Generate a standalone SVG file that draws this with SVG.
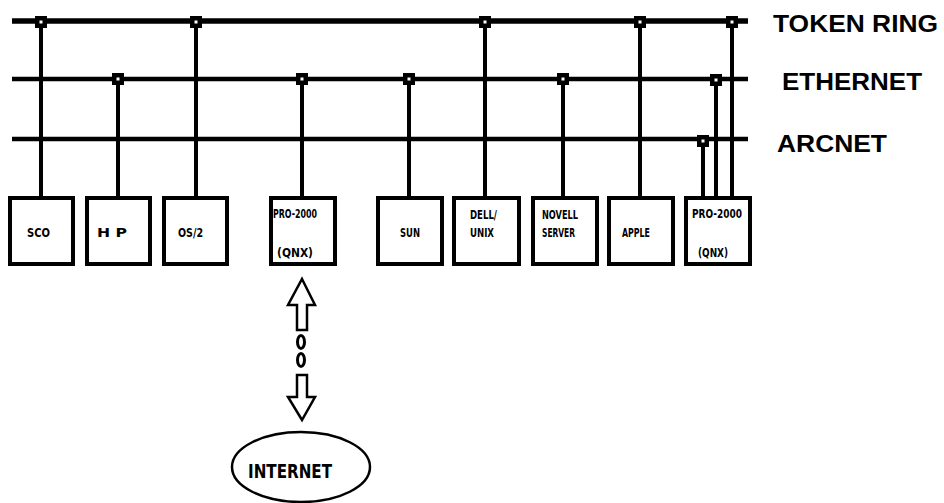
<svg xmlns="http://www.w3.org/2000/svg" width="944" height="503" viewBox="0 0 944 503">
<defs>
<style>
.bus{stroke:#000;stroke-linecap:butt;fill:none}
.drop{stroke:#000;stroke-width:4;fill:none}
.box{fill:#fff;stroke:#000;stroke-width:4}
.lbl{font-family:"DejaVu Sans Condensed","Liberation Sans",sans-serif;font-weight:bold;font-size:12px;fill:#000}
.net{font-family:"Liberation Sans",Arial,sans-serif;font-weight:bold;font-size:24px;fill:#000}
.arr{fill:#fff;stroke:#000;stroke-width:2.5;stroke-linejoin:miter}
</style>
<g id="tap"><rect x="-6" y="-6" width="12" height="12" fill="#000"/><rect x="-1.5" y="-1.5" width="3" height="3" fill="#fff"/></g>
</defs>
<rect width="944" height="503" fill="#fff"/>
<g id="connectors">
<line class="bus" x1="12" y1="21" x2="748" y2="21" stroke-width="5.5"/>
<line class="bus" x1="12" y1="79" x2="748" y2="79" stroke-width="4.5"/>
<line class="bus" x1="12" y1="139" x2="748" y2="139" stroke-width="4.5"/>
<line class="drop" x1="41" y1="21" x2="41" y2="198"/>
<line class="drop" x1="118" y1="79" x2="118" y2="198"/>
<line class="drop" x1="196" y1="21" x2="196" y2="198"/>
<line class="drop" x1="302" y1="79" x2="302" y2="198"/>
<line class="drop" x1="409" y1="79" x2="409" y2="198"/>
<line class="drop" x1="485" y1="21" x2="485" y2="198"/>
<line class="drop" x1="563" y1="79" x2="563" y2="198"/>
<line class="drop" x1="640" y1="21" x2="640" y2="198"/>
<line class="drop" x1="703" y1="139" x2="703" y2="198"/>
<line class="drop" x1="716" y1="79" x2="716" y2="198"/>
<line class="drop" x1="732" y1="21" x2="732" y2="198"/>
<use href="#tap" x="41" y="22"/>
<use href="#tap" x="196" y="22"/>
<use href="#tap" x="485" y="22"/>
<use href="#tap" x="640" y="22"/>
<use href="#tap" x="732" y="22"/>
<use href="#tap" x="118" y="79"/>
<use href="#tap" x="302" y="79"/>
<use href="#tap" x="409" y="79"/>
<use href="#tap" x="563" y="79"/>
<use href="#tap" x="716" y="80"/>
<use href="#tap" x="703" y="141"/>
<polygon class="arr" points="302,279 315,305 307,305 307,330 297,330 297,305 288,305"/>
<ellipse cx="301" cy="342" rx="3.5" ry="6.5" fill="none" stroke="#000" stroke-width="3"/>
<ellipse cx="301" cy="360" rx="3.5" ry="6.5" fill="none" stroke="#000" stroke-width="3"/>
<polygon class="arr" points="297,375 307,375 307,397 315,397 302,420 288,397 297,397"/>
</g>
<g id="labels">
<text class="net" x="773" y="32" textLength="165" lengthAdjust="spacingAndGlyphs">TOKEN RING</text>
<text class="net" x="782" y="90" textLength="140" lengthAdjust="spacingAndGlyphs">ETHERNET</text>
<text class="net" x="777" y="152" textLength="110" lengthAdjust="spacingAndGlyphs">ARCNET</text>
</g>
<g id="sco"><rect class="box" x="10" y="198" width="63" height="66"/><text class="lbl" x="27" y="237" textLength="23" lengthAdjust="spacingAndGlyphs">SCO</text></g>
<g id="hp"><rect class="box" x="87" y="198" width="63" height="66"/><text class="lbl" x="97" y="237" textLength="30" lengthAdjust="spacingAndGlyphs">H  P</text></g>
<g id="os2"><rect class="box" x="164" y="198" width="63" height="66"/><text class="lbl" x="178" y="237" textLength="25" lengthAdjust="spacingAndGlyphs">OS/2</text></g>
<g id="pro2000a"><rect class="box" x="271" y="198" width="64" height="66"/><text class="lbl" x="273" y="218" textLength="44" lengthAdjust="spacingAndGlyphs">PRO-2000</text><text class="lbl" x="277" y="257" textLength="36" lengthAdjust="spacingAndGlyphs">(QNX)</text></g>
<g id="sun"><rect class="box" x="378" y="198" width="64" height="66"/><text class="lbl" x="400" y="237" textLength="20" lengthAdjust="spacingAndGlyphs">SUN</text></g>
<g id="dell"><rect class="box" x="454" y="198" width="65" height="66"/><text class="lbl" x="470" y="219" textLength="27" lengthAdjust="spacingAndGlyphs">DELL/</text><text class="lbl" x="470" y="237" textLength="24" lengthAdjust="spacingAndGlyphs">UNIX</text></g>
<g id="novell"><rect class="box" x="533" y="198" width="64" height="66"/><text class="lbl" x="542" y="219" textLength="36" lengthAdjust="spacingAndGlyphs">NOVELL</text><text class="lbl" x="542" y="237" textLength="33" lengthAdjust="spacingAndGlyphs">SERVER</text></g>
<g id="apple"><rect class="box" x="609" y="198" width="64" height="66"/><text class="lbl" x="622" y="237" textLength="28" lengthAdjust="spacingAndGlyphs">APPLE</text></g>
<g id="pro2000b"><rect class="box" x="686" y="198" width="64" height="66"/><text class="lbl" x="692" y="218" textLength="50" lengthAdjust="spacingAndGlyphs">PRO-2000</text><text class="lbl" x="698" y="257" textLength="30" lengthAdjust="spacingAndGlyphs">(QNX)</text></g>
<g id="internet"><ellipse cx="301" cy="467" rx="69" ry="35" fill="#fff" stroke="#000" stroke-width="2.5"/><text x="248" y="478" font-family="'DejaVu Sans Condensed','Liberation Sans',sans-serif" font-weight="bold" font-size="20" textLength="84" lengthAdjust="spacingAndGlyphs">INTERNET</text></g>
</svg>
